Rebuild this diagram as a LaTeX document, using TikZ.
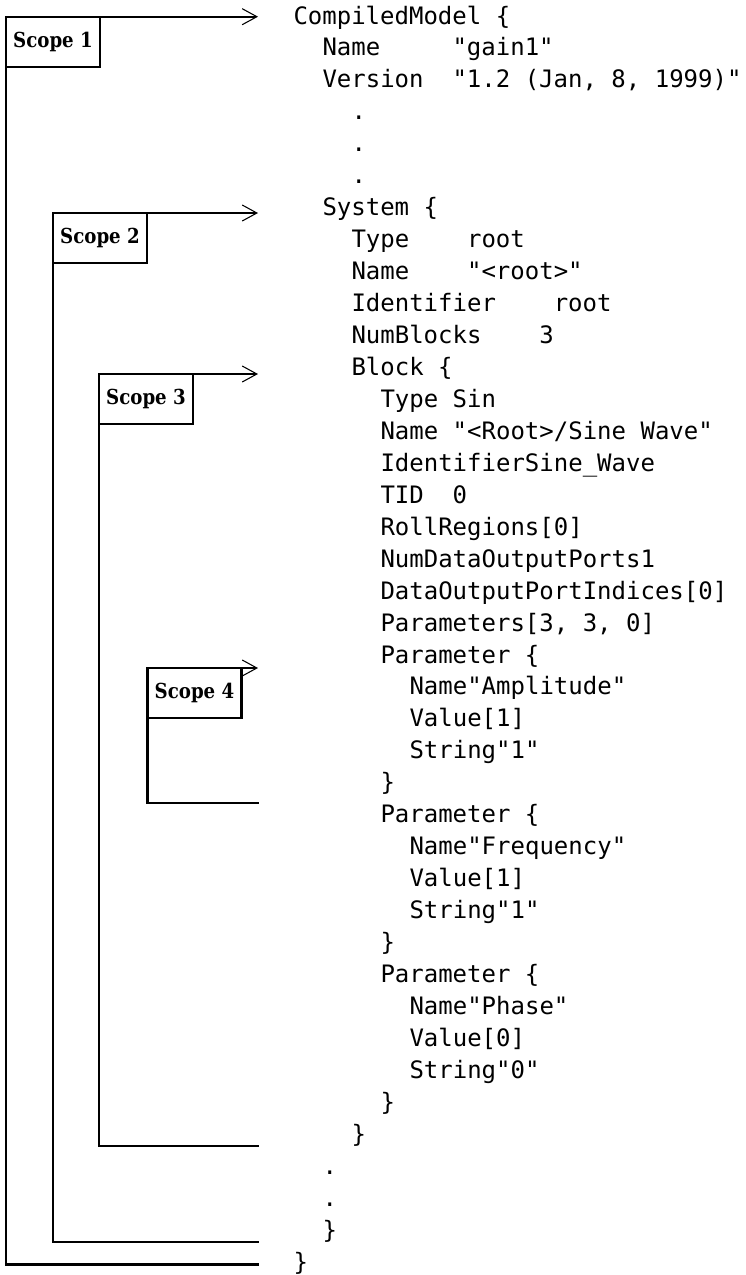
\documentclass[tikz,border=0pt]{standalone}
\usepackage{fontspec}
\newfontfamily\codefont{DejaVu Sans Mono}
\newfontfamily\labelfont[FakeStretch=0.88]{DejaVu Serif}
\usetikzlibrary{arrows.meta}
% one unit = one pixel, y grows downwards
\tikzset{
  every picture/.style={x=0.75pt, y=-0.75pt},
  scopebox/.style={draw, line width=1.8pt, inner sep=0pt, outer sep=0pt,
    minimum width=70.5pt, minimum height=37.5pt,
    font=\labelfont\bfseries\fontsize{15.5}{18}\selectfont},
  wire/.style={line width=1.8pt},
  entry/.style={line width=1.8pt,
    -{Straight Barb[length=11pt, width=12pt, line width=0.8pt]}},
  code/.style={anchor=base west, inner sep=0pt, outer sep=0pt,
    font=\codefont\fontsize{18}{20}\selectfont\frenchspacing}
}
% \codeline{name}{column}{row}{text}
\newcommand\codeline[4]{%
  \node[code] (#1) at ({293.5+14.5*#2},{24+31.95*#3}) {#4};}
\begin{document}
\begin{tikzpicture}
\useasboundingbox (0,0) rectangle (746,1275);

% listing of the compiled model file
\codeline{c0}{0}{0}{CompiledModel \{}
\codeline{c1}{2}{1}{Name~~~~~"gain1"}
\codeline{c2}{2}{2}{Version~~"1.2 (Jan, 8, 1999)"}
\codeline{c3}{4}{3}{.}
\codeline{c4}{4}{4}{.}
\codeline{c5}{4}{5}{.}
\codeline{c6}{2}{6}{System \{}
\codeline{c7}{4}{7}{Type~~~~root}
\codeline{c8}{4}{8}{Name~~~~"<root>"}
\codeline{c9}{4}{9}{Identifier~~~~root}
\codeline{c10}{4}{10}{NumBlocks~~~~3}
\codeline{c11}{4}{11}{Block \{}
\codeline{c12}{6}{12}{Type Sin}
\codeline{c13}{6}{13}{Name "<Root>/Sine Wave"}
\codeline{c14}{6}{14}{IdentifierSine\_Wave}
\codeline{c15}{6}{15}{TID~~0}
\codeline{c16}{6}{16}{RollRegions[0]}
\codeline{c17}{6}{17}{NumDataOutputPorts1}
\codeline{c18}{6}{18}{DataOutputPortIndices[0]}
\codeline{c19}{6}{19}{Parameters[3, 3, 0]}
\codeline{c20}{6}{20}{Parameter \{}
\codeline{c21}{8}{21}{Name"Amplitude"}
\codeline{c22}{8}{22}{Value[1]}
\codeline{c23}{8}{23}{String"1"}
\codeline{c24}{6}{24}{\}}
\codeline{c25}{6}{25}{Parameter \{}
\codeline{c26}{8}{26}{Name"Frequency"}
\codeline{c27}{8}{27}{Value[1]}
\codeline{c28}{8}{28}{String"1"}
\codeline{c29}{6}{29}{\}}
\codeline{c30}{6}{30}{Parameter \{}
\codeline{c31}{8}{31}{Name"Phase"}
\codeline{c32}{8}{32}{Value[0]}
\codeline{c33}{8}{33}{String"0"}
\codeline{c34}{6}{34}{\}}
\codeline{c35}{4}{35}{\}}
\codeline{c36}{2}{36}{.}
\codeline{c37}{2}{37}{.}
\codeline{c38}{2}{38}{\}}
\codeline{c39}{0}{39}{\}}

% scope labels
\node[scopebox] (s1) at (53,41.7)  {Scope 1};
\node[scopebox] (s2) at (100,238)  {Scope 2};
\node[scopebox] (s3) at (146,399)  {Scope 3};
\node[scopebox] (s4) at (194.5,693) {Scope 4};

% where each scope opens and closes
\coordinate (s1in)  at (258,16.7);
\coordinate (s2in)  at (258,213);
\coordinate (s3in)  at (258,374);
\coordinate (s4in)  at (258,668);
\coordinate (s1out) at (259,1264.3);
\coordinate (s2out) at (259,1241.7);
\coordinate (s3out) at (259,1145.7);
\coordinate (s4out) at (259,802.7);

\foreach \s in {s1,s2,s3,s4}{
  \draw[entry] (\s.north west) -- (\s in);
  \draw[wire]  (\s.south west) |- (\s out);
}
\end{tikzpicture}
\end{document}
